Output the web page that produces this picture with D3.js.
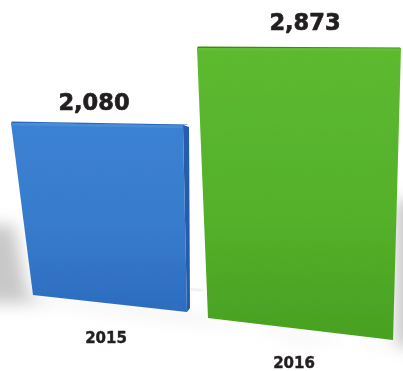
<!DOCTYPE html>
<html>
<head>
<meta charset="utf-8">
<script src="https://cdn.jsdelivr.net/npm/d3@7"></script>
<style>
  html, body { margin: 0; padding: 0; background: #fff; }
  svg { display: block; }
</style>
</head>
<body>
<svg id="chart" width="403" height="371"></svg>
<script>
// Yearly totals
const years = ["2015", "2016"];
const totals = [2080, 2873];
const valueLabels = ["2,080", "2,873"];

const svg = d3.select("#chart");

// Bar height scale (perspective view, bars rise from a receding floor)
const hScale = d3.scaleLinear().domain([675, 2873]).range([0, 281]);

// Horizontal placement of each bar's front face
const xLeft = d3.scaleOrdinal().domain(years).range([11, 197]);
const xRight = d3.scaleOrdinal().domain(years).range([183, 401]);

// Floor geometry for each bar: floor heights at the two front corners, edge positions at the floor
const floor = {
  "2015": { bl: 295, br: 312, blx: 33, brx: 187, tilt: 2, side: 6 },
  "2016": { bl: 318, br: 340, blx: 208, brx: 393, tilt: 0, side: 0 }
};

const palettes = {
  "2015": { top: "#3d84d6", mid: "#3a7ecf", bot: "#316fc2", side: "#2a5fae", edge: "#4c8fdc", rim: "#2f6dbd" },
  "2016": { top: "#5fbd33", mid: "#57b42e", bot: "#4ba327", side: "#3e8d1f", edge: "#66c23a", rim: "#3f8c1e" }
};

const defs = svg.append("defs");
const blur = defs.append("filter").attr("id", "soft")
  .attr("x", "-50%").attr("y", "-50%").attr("width", "200%").attr("height", "200%");
blur.append("feGaussianBlur").attr("stdDeviation", 8);
const blurSmall = defs.append("filter").attr("id", "softer")
  .attr("x", "-50%").attr("y", "-50%").attr("width", "200%").attr("height", "200%");
blurSmall.append("feGaussianBlur").attr("stdDeviation", 0.8);

// subtle grain on the bar surfaces
const grain = defs.append("filter").attr("id", "grain");
grain.append("feTurbulence").attr("type", "fractalNoise").attr("baseFrequency", 0.9)
  .attr("numOctaves", 2).attr("seed", 3).attr("result", "noise");
grain.append("feColorMatrix").attr("in", "noise").attr("type", "matrix")
  .attr("values", "0 0 0 0 0  0 0 0 0 0  0 0 0 0 0  0 0 0 0.07 0").attr("result", "dots");
grain.append("feComposite").attr("in", "dots").attr("in2", "SourceGraphic").attr("operator", "in").attr("result", "clipped");
grain.append("feMerge").call(m => {
  m.append("feMergeNode").attr("in", "SourceGraphic");
  m.append("feMergeNode").attr("in", "clipped");
});

const bars = years.map((yr, i) => {
  const f = floor[yr];
  const h = hScale(totals[i]);
  const top = (f.bl + f.br) / 2 - h;
  return {
    yr, i, f, h, top,
    TL: [xLeft(yr), top - f.tilt / 2],
    TR: [xRight(yr), top + f.tilt / 2],
    BR: [f.brx, f.br],
    BL: [f.blx, f.bl]
  };
});

years.forEach((yr, i) => {
  const p = palettes[yr];
  const g = defs.append("linearGradient").attr("id", "grad" + i)
    .attr("x1", 0).attr("y1", 0).attr("x2", 0).attr("y2", 1);
  g.append("stop").attr("offset", "0%").attr("stop-color", p.top);
  g.append("stop").attr("offset", "55%").attr("stop-color", p.mid);
  g.append("stop").attr("offset", "100%").attr("stop-color", p.bot);
});

// Floor shadows
const shadows = svg.append("g").attr("filter", "url(#soft)");
shadows.append("path")
  .attr("d", d3.line()([[-20, 225], [14, 225], [28, 295], [50, 303], [-20, 303]]))
  .attr("fill", "#9a9a9a").attr("opacity", 0.55);
shadows.append("path")
  .attr("d", d3.line()([[396, 200], [420, 200], [420, 350], [396, 345]]))
  .attr("fill", "#9a9a9a").attr("opacity", 0.55);
shadows.append("path")
  .attr("d", d3.line()([[40, 297], [186, 314], [300, 340], [392, 343], [392, 347], [40, 301]]))
  .attr("fill", "#cfcfcf").attr("opacity", 0.45);

// faint floor line between the bars
svg.append("line")
  .attr("x1", 190).attr("y1", 289).attr("x2", 203).attr("y2", 290.5)
  .attr("stroke", "#cfcfcf").attr("stroke-width", 1).attr("filter", "url(#softer)");

const line = d3.line().curve(d3.curveLinearClosed);

const gBars = svg.append("g").attr("filter", "url(#grain)");
bars.forEach(b => {
  const p = palettes[b.yr];
  // side face (visible on the right of the nearer bar)
  if (b.f.side > 0) {
    gBars.append("path")
      .attr("d", line([b.TR, [b.TR[0] + b.f.side, b.TR[1] + 2], [b.BR[0] + 3, b.BR[1] - 4], b.BR]))
      .attr("fill", p.side);
  }
  // front face
  gBars.append("path")
    .attr("d", line([b.TL, b.TR, b.BR, b.BL]))
    .attr("fill", `url(#grad${b.i})`);
  // top rim and bevel
  gBars.append("path")
    .attr("d", line([[b.TL[0] + 1, b.TL[1] - 1.5], [b.TR[0] + b.f.side - 1, b.TR[1] - 0.5], [b.TR[0], b.TR[1] + 0.5], [b.TL[0], b.TL[1]]]))
    .attr("fill", p.rim);
  gBars.append("path")
    .attr("d", line([[b.TL[0], b.TL[1]], [b.TR[0], b.TR[1] + 0.5], [b.TR[0], b.TR[1] + 3], [b.TL[0], b.TL[1] + 2.5]]))
    .attr("fill", p.edge);
});

// Value labels
svg.append("g").selectAll("text.value")
  .data(bars)
  .join("text")
  .attr("class", "value")
  .attr("x", (d, i) => [94, 305][i])
  .attr("y", d => d.top - [13.5, 18][d.i])
  .attr("text-anchor", "middle")
  .attr("font-family", "'DejaVu Sans', sans-serif")
  .attr("font-weight", 700)
  .attr("font-size", 22.5)
  .attr("fill", "#231f20")
  .attr("stroke", "#231f20")
  .attr("stroke-width", 0.7)
  .text(d => valueLabels[d.i]);

// Year labels
svg.append("g").selectAll("text.year")
  .data(bars)
  .join("text")
  .attr("class", "year")
  .attr("x", (d, i) => [106, 294][i])
  .attr("y", d => d.f.br + [31, 27.5][d.i])
  .attr("text-anchor", "middle")
  .attr("font-family", "'DejaVu Sans', sans-serif")
  .attr("font-weight", 700)
  .attr("font-size", 15)
  .attr("fill", "#231f20")
  .attr("stroke", "#231f20")
  .attr("stroke-width", 0.4)
  .text(d => d.yr);
</script>
</body>
</html>
